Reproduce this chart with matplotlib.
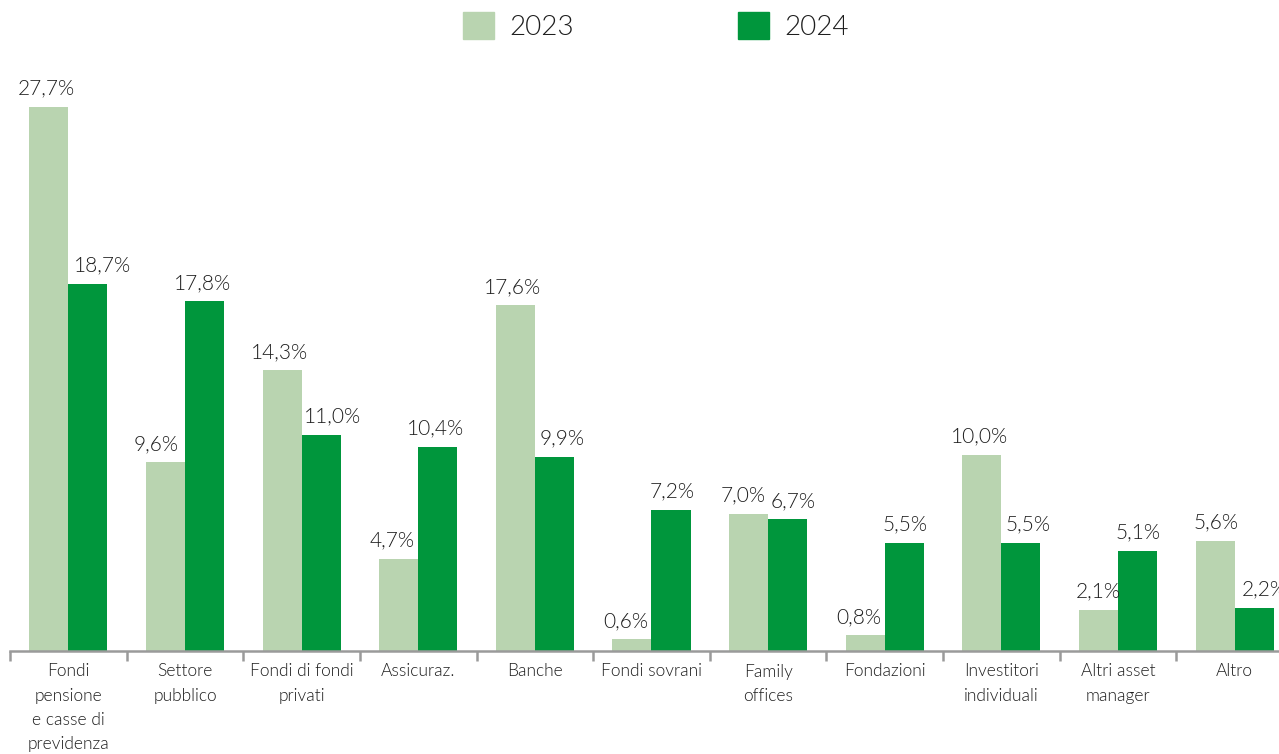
import matplotlib.pyplot as plt
from matplotlib.patches import Patch
import numpy as np

categories = ["Fondi\npensione\ne casse di\nprevidenza", "Settore\npubblico",
              "Fondi di fondi\nprivati", "Assicuraz.", "Banche", "Fondi sovrani",
              "Family\noffices", "Fondazioni", "Investitori\nindividuali",
              "Altri asset\nmanager", "Altro"]
vals_2023 = [27.7, 9.6, 14.3, 4.7, 17.6, 0.6, 7.0, 0.8, 10.0, 2.1, 5.6]
vals_2024 = [18.7, 17.8, 11.0, 10.4, 9.9, 7.2, 6.7, 5.5, 5.5, 5.1, 2.2]

# horizontal nudge of the value labels (pixels), to keep them clear of the next bar
nudge_2023 = [-2, -9, -3, -7, -3, -6, -5, -6, -2, 0, 1]
nudge_2024 = [15, -2, 11, -2, 8, 1, 5, 1, 7, 0, 10]

light = "#b9d4b0"
dark = "#00963c"
txt = "#1e1e1e"

plt.rcParams['font.family'] = ['Lato', 'DejaVu Sans']
WEIGHT = 300


def main():
    fig = plt.figure(figsize=(12.79, 7.54), dpi=100)
    ax = fig.add_axes([10 / 1279, 103 / 754, 1269 / 1279, 591 / 754])

    x = np.arange(len(categories))
    w = 0.335
    b1 = ax.bar(x - w / 2, vals_2023, w, color=light)
    b2 = ax.bar(x + w / 2, vals_2024, w, color=dark)

    for bars, vals, nudge in ((b1, vals_2023, nudge_2023), (b2, vals_2024, nudge_2024)):
        for b, v, dx in zip(bars, vals, nudge):
            ax.annotate(f"{v:.1f}%".replace(".", ","),
                        (b.get_x() + b.get_width() / 2, v),
                        xytext=(dx * 0.72, 6), textcoords="offset points",
                        ha="center", va="bottom", fontsize=15,
                        color=txt, fontweight=WEIGHT, annotation_clip=False)

    for s in ["top", "right", "left"]:
        ax.spines[s].set_visible(False)
    ax.spines["bottom"].set_color("#9a9a9a")
    ax.spines["bottom"].set_linewidth(1.8)
    ax.set_yticks([])

    ax.set_xticks(np.arange(len(categories)) - 0.5)
    ax.set_xticklabels([])
    ax.tick_params(axis="x", which="major", length=7, width=1.8, color="#9a9a9a")
    ax.set_xticks(x, minor=True)
    ax.set_xticklabels(categories, minor=True, fontsize=12.5, color=txt,
                       fontweight=WEIGHT, linespacing=1.64)
    ax.tick_params(axis="x", which="minor", length=0, pad=9)

    ax.set_xlim(-0.5, 10.38)
    ax.set_ylim(0, 30.09)

    handles = [Patch(color=light, label="2023"), Patch(color=dark, label="2024")]
    fig.legend(handles=handles, loc="center", bbox_to_anchor=(656 / 1279, 1 - 26 / 754),
               ncol=2, frameon=False, handlelength=1.12,
               handleheight=1.12, handletextpad=0.55, columnspacing=5.9,
               labelcolor=txt, prop={"weight": WEIGHT, "size": 20})

    fig.savefig("out.png", dpi=100)


if __name__ == "__main__":
    main()
